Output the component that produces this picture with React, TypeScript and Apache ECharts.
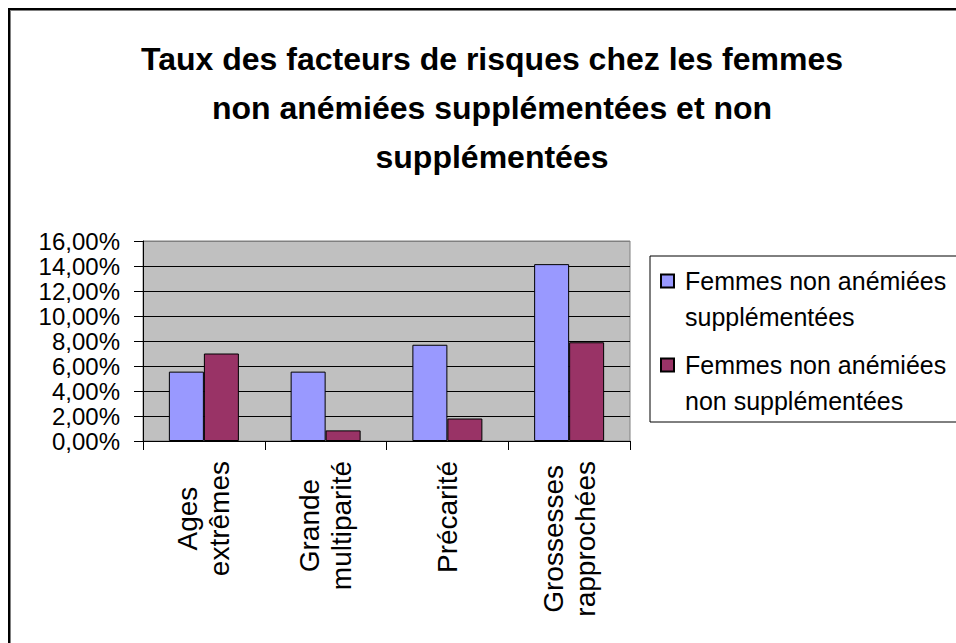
import React, { useEffect, useRef } from "react";
import * as echarts from "echarts";

const titleLines = [
  "Taux des facteurs de risques chez les femmes",
  "non anémiées supplémentées et non",
  "supplémentées",
];
const categories = ["Ages extrêmes", "Grande multiparité", "Précarité", "Grossesses rapprochées"];
const seriesNames = [
  "Femmes non anémiées supplémentées",
  "Femmes non anémiées non supplémentées",
];
const supplemented = [5.55, 5.55, 7.7, 14.15];
const notSupplemented = [7.0, 0.85, 1.8, 7.9];
const seriesColors = ["#9999FF", "#993366"];
const yMin = 0;
const yMax = 16;
const yInterval = 2;

const FONT = "'Liberation Sans', Arial, sans-serif";

export default function App() {
  const ref = useRef<HTMLDivElement>(null);
  useEffect(() => {
    if (!ref.current) return;
    document.documentElement.style.overflow = "hidden";
    document.body.style.overflow = "hidden";
    const chart = echarts.init(ref.current, null, { renderer: "svg" });
    const nLines = (yMax - yMin) / yInterval + 1;
    const splitColors: string[] = [];
    for (let i = 0; i < nLines; i++) splitColors.push(i === nLines - 1 ? "#808080" : "#000000");
    chart.setOption({
      animation: false,
      backgroundColor: "transparent",
      textStyle: { fontFamily: FONT, color: "#000" },
      title: {
        text: titleLines.join("\n"),
        left: 482,
        top: 24,
        padding: 0,
        textAlign: "center",
        textStyle: {
          fontFamily: FONT,
          fontSize: 32,
          fontWeight: "bold",
          lineHeight: 49,
          color: "#000",
        },
      },
      legend: {
        orient: "vertical",
        left: 640,
        top: 246,
        padding: [7, 30, 3, 10],
        borderColor: "#000",
        borderWidth: 1,
        backgroundColor: "#fff",
        itemGap: 12,
        itemWidth: 19,
        itemHeight: 49,
        icon: "path://M0,0h13v13h-13z M19,49",
        formatter: (name: string) => name.replace("anémiées ", "anémiées\n"),
        textStyle: { fontFamily: FONT, fontSize: 25, lineHeight: 36, color: "#000" },
        data: seriesNames,
      },
      grid: {
        left: 133,
        top: 231,
        width: 487,
        height: 200,
        show: true,
        backgroundColor: "#C0C0C0",
        borderColor: "#808080",
        borderWidth: 1,
        containLabel: false,
      },
      xAxis: {
        type: "category",
        data: categories,
        axisLine: { lineStyle: { color: "#000", width: 1 } },
        axisTick: { show: true, length: 9, lineStyle: { color: "#000" } },
        axisLabel: {
          interval: 0,
          rotate: 90,
          margin: 20,
          fontFamily: FONT,
          fontSize: 28,
          lineHeight: 32,
          color: "#000",
          formatter: (v: string) =>
            v
              .split(" ")
              .map((s) => `{c|${s}}`)
              .join("\n"),
          rich: {
            c: { align: "center", fontFamily: FONT, fontSize: 28, lineHeight: 32, color: "#000" },
          },
        },
      },
      yAxis: {
        type: "value",
        min: yMin,
        max: yMax,
        interval: yInterval,
        axisLine: { show: true, lineStyle: { color: "#000", width: 1 } },
        axisTick: { show: true, length: 9, lineStyle: { color: "#000" } },
        axisLabel: {
          margin: 23,
          fontFamily: FONT,
          fontSize: 24,
          color: "#000",
          formatter: (v: number) => v.toFixed(2).replace(".", ",") + "%",
        },
        splitLine: { show: true, lineStyle: { color: splitColors, width: 1 } },
      },
      series: [
        {
          name: seriesNames[0],
          type: "bar",
          data: supplemented,
          barWidth: 35,
          barGap: "0%",
          itemStyle: { color: seriesColors[0], borderColor: "#000", borderWidth: 1 },
        },
        {
          name: seriesNames[1],
          type: "bar",
          data: notSupplemented,
          barWidth: 35,
          barGap: "0%",
          itemStyle: { color: seriesColors[1], borderColor: "#000", borderWidth: 1 },
        },
      ],
    });
    return () => chart.dispose();
  }, []);

  return (
    <div
      style={{
        position: "fixed",
        left: 8,
        top: 8,
        width: 948,
        height: 635,
        overflow: "hidden",
      }}
    >
      <div
        ref={ref}
        style={{
          width: 1000,
          height: 700,
          borderTop: "2px solid #000",
          borderLeft: "2px solid #000",
          background: "#fff",
          boxShadow: "inset 1px 1px 0 #808080",
        }}
      />
    </div>
  );
}
